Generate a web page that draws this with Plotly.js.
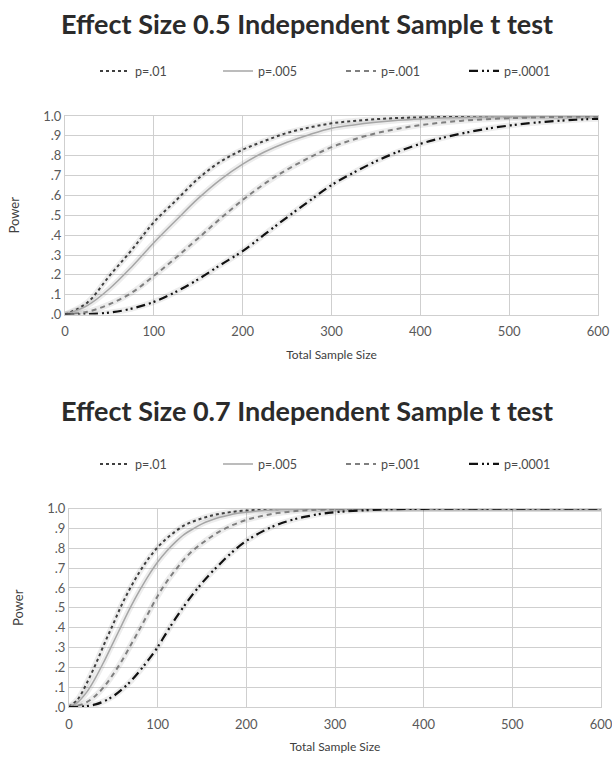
<!DOCTYPE html>
<html><head><meta charset="utf-8">
<script src="https://cdn.plot.ly/plotly-3.0.1.min.js"></script>
<style>html,body{margin:0;padding:0;background:#fff}#chart{width:612px;height:762px}</style>
</head><body><div id="chart"></div>
<script>
// ---- data ----
const seriesNames = ['p=.01', 'p=.005', 'p=.001', 'p=.0001'];
const titleTop = 'Effect Size 0.5 Independent Sample t test';
const titleBottom = 'Effect Size 0.7 Independent Sample t test';
const xTitle = 'Total Sample Size';
const yTitle = 'Power';
const yTickVals = [0, 0.1, 0.2, 0.3, 0.4, 0.5, 0.6, 0.7, 0.8, 0.9, 1.0];
const yTickText = ['.0', '.1', '.2', '.3', '.4', '.5', '.6', '.7', '.8', '.9', '1.0'];
const xTickVals = [0, 100, 200, 300, 400, 500, 600];

// Effect size 0.5 (total sample size, power)
const nTop = [0, 25, 50, 75, 100, 125, 150, 175, 200, 225, 250, 275, 300, 325, 350, 375, 400, 425, 450, 475, 500, 525, 550, 575, 600];
const top_p01   = [0, .06, .195, .325, .465, .575, .685, .77, .83, .875, .915, .942, .963, .975, .984, .99, .993, .995, .997, .998, .999, .999, 1, 1, 1];
const top_p005  = [0, .045, .13, .24, .362, .475, .585, .68, .758, .82, .868, .906, .938, .955, .968, .978, .985, .99, .993, .9955, .997, .998, .999, .999, 1];
const top_p001  = [0, .014, .052, .11, .195, .287, .385, .484, .577, .66, .73, .79, .843, .882, .913, .936, .954, .967, .977, .984, .989, .992, .995, .996, .997];
const top_p0001 = [0, .0015, .01, .03, .064, .115, .178, .25, .32, .405, .49, .572, .652, .715, .772, .82, .86, .89, .915, .936, .952, .965, .974, .981, .986];

// Effect size 0.7 (total sample size, power)
const nBot = [0, 10, 20, 30, 40, 50, 60, 70, 80, 90, 100, 110, 120, 130, 140, 150, 160, 170, 180, 190, 200, 210, 220, 230, 240, 250, 260, 270, 280, 290, 300, 350, 400, 450, 500, 550, 600];
const bot_p01   = [0, .04, .12, .215, .32, .42, .52, .607, .684, .75, .805, .849, .885, .915, .935, .951, .964, .974, .981, .987, .99, .993, .995, .9966, .9976, .998, .9987, .999, .9994, .9996, .9997, 1, 1, 1, 1, 1, 1];
const bot_p005  = [0, .025, .075, .148, .234, .326, .418, .508, .59, .665, .731, .785, .831, .87, .898, .923, .941, .956, .967, .976, .982, .987, .99, .993, .995, .996, .997, .998, .9985, .999, .999, 1, 1, 1, 1, 1, 1];
const bot_p001  = [0, .007, .024, .057, .105, .166, .236, .315, .395, .478, .56, .63, .69, .745, .79, .825, .857, .885, .908, .927, .943, .955, .965, .974, .98, .985, .989, .9916, .994, .9953, .9967, .9995, 1, 1, 1, 1, 1];
const bot_p0001 = [0, .0005, .0044, .013, .03, .055, .09, .132, .183, .24, .302, .375, .445, .51, .57, .625, .675, .72, .764, .803, .837, .865, .889, .91, .927, .941, .953, .962, .971, .977, .982, .995, .999, 1, 1, 1, 1];

// ---- styles ----
const lineStyles = [
  {color: '#3f3f3f', width: 2, dash: 'dot'},
  {color: '#a6a6a6', width: 1.5, dash: 'solid'},
  {color: '#7f7f7f', width: 2, dash: '5px,4px'},
  {color: '#111111', width: 2.2, dash: '9px,4px,2px,3px,2px,4px'}
];
const FONT = 'Lato, "Open Sans", sans-serif';

const topSeries = [top_p01, top_p005, top_p001, top_p0001];
const botSeries = [bot_p01, bot_p005, bot_p001, bot_p0001];

const traces = [];
function addShadow(x, y, xa, ya) {
  traces.push({x: x, y: y, xaxis: xa, yaxis: ya, type: 'scatter', mode: 'lines',
    line: {color: 'rgba(0,0,0,0.07)', width: 6, shape: 'spline'}, showlegend: false, hoverinfo: 'skip'});
}
topSeries.forEach((s) => addShadow(nTop, s, 'x', 'y'));
botSeries.forEach((s) => addShadow(nBot, s, 'x2', 'y2'));
topSeries.forEach((s, i) => traces.push({
  x: nTop, y: s, name: seriesNames[i], xaxis: 'x', yaxis: 'y', type: 'scatter', mode: 'lines',
  line: Object.assign({shape: 'spline'}, lineStyles[i]), legend: 'legend'
}));
botSeries.forEach((s, i) => traces.push({
  x: nBot, y: s, name: seriesNames[i], xaxis: 'x2', yaxis: 'y2', type: 'scatter', mode: 'lines',
  line: Object.assign({shape: 'spline'}, lineStyles[i]), legend: 'legend2'
}));

const W = 612, H = 762;
const mL = 65, mR = W - 600.7, mT = 115.7, mB = H - 706.7;
const pw = W - mL - mR, ph = H - mT - mB;
function figToPaperX(px) { return (px - mL) / pw; }
function figToPaperY(py) { return (H - mB - py) / ph; }

function xaxis(domain, anchor) {
  return {domain: domain, anchor: anchor, range: [0, 600], tickvals: xTickVals, ticks: '',
    showgrid: true, gridcolor: '#cfcfcf', gridwidth: 1, zeroline: false,
    showline: true, linecolor: '#cfcfcf', mirror: true, ticklabelstandoff: 5, ticklabeloverflow: 'allow',
    tickfont: {family: FONT, size: 13, color: '#595959'},
    title: {text: xTitle, font: {family: FONT, size: 12, color: '#404040'}, standoff: 12}};
}
function yaxis(domain, anchor) {
  return {domain: domain, anchor: anchor, range: [0, 1], tickvals: yTickVals, ticktext: yTickText, ticks: '',
    showgrid: true, gridcolor: '#cfcfcf', gridwidth: 1, zeroline: false,
    showline: true, linecolor: '#cfcfcf', mirror: true,
    tickfont: {family: FONT, size: 13, color: '#595959'},
    title: {text: yTitle, font: {family: FONT, size: 13, color: '#404040'}, standoff: 20}};
}

const legendBase = {orientation: 'h', xanchor: 'left', yanchor: 'middle', xref: 'paper', yref: 'paper',
  font: {family: FONT, size: 12.5, color: '#4a4a4a'}, entrywidth: 78, entrywidthmode: 'pixels', bgcolor: 'rgba(0,0,0,0)'};

const layout = {
  width: W, height: H, margin: {l: mL, r: mR, t: mT, b: mB},
  paper_bgcolor: '#fff', plot_bgcolor: '#fff', font: {family: FONT},
  xaxis: xaxis([0, (597.7 - mL) / pw], 'y'),
  yaxis: yaxis([(706.7 - 314.3) / ph, 1], 'x'),
  xaxis2: xaxis([(69 - mL) / pw, 1], 'y2'),
  yaxis2: yaxis([0, (706.7 - 508.3) / ph], 'x2'),
  legend: Object.assign({}, legendBase, {x: figToPaperX(95), y: figToPaperY(71)}),
  legend2: Object.assign({}, legendBase, {x: figToPaperX(95), y: figToPaperY(464)}),
  annotations: [
    {text: titleTop, xref: 'paper', yref: 'paper', x: figToPaperX(307), y: figToPaperY(23), xanchor: 'center', yanchor: 'middle', showarrow: false,
      font: {family: FONT, size: 27, color: '#2b2b2b', weight: 'bold'}},
    {text: titleBottom, xref: 'paper', yref: 'paper', x: figToPaperX(307), y: figToPaperY(410), xanchor: 'center', yanchor: 'middle', showarrow: false,
      font: {family: FONT, size: 27, color: '#2b2b2b', weight: 'bold'}}
  ]
};

Plotly.newPlot('chart', traces, layout, {displayModeBar: false, staticPlot: true});
</script></body></html>
